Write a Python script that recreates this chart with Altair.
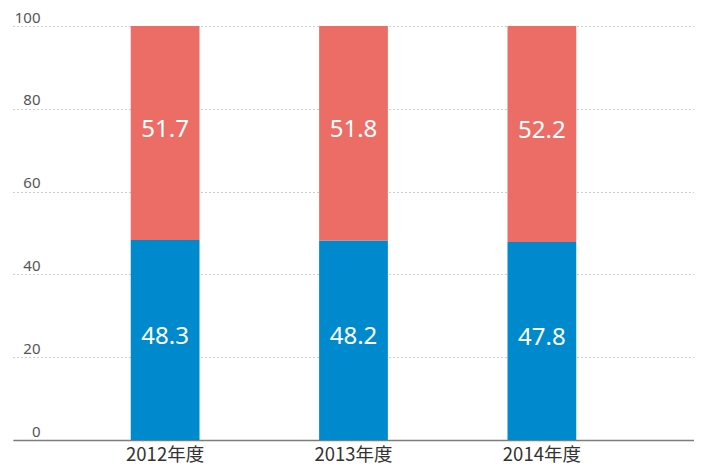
import altair as alt
import pandas as pd

years = ["2012年度", "2013年度", "2014年度"]
lower_vals = [48.3, 48.2, 47.8]
upper_vals = [51.7, 51.8, 52.2]
series = ["lower", "upper"]
colors = ["#008ACE", "#EC6D66"]
y_ticks = [0, 20, 40, 60, 80, 100]

rows = []
for i, y in enumerate(years):
    rows.append({"year": y, "series": "lower", "order": 0, "value": lower_vals[i]})
    rows.append({"year": y, "series": "upper", "order": 1, "value": upper_vals[i]})
df = pd.DataFrame(rows)

font = "Noto Sans CJK JP"
num_font = "Noto Sans"

base = alt.Chart(df).transform_stack(
    stack="value", groupby=["year"], as_=["y0", "y1"], sort=[alt.SortField("order")]
).transform_calculate(
    mid="(datum.y0 + datum.y1) / 2",
    label="format(datum.value, '.1f')",
)

xenc = alt.X(
    "year:N",
    sort=years,
    scale=alt.Scale(paddingInner=0.635, paddingOuter=0.625),
    axis=alt.Axis(
        title=None, labelAngle=0, ticks=False, domainColor="#7d7d7d", domainWidth=1.5,
        labelFont=font, labelFontSize=18.5, labelColor="#333333", labelPadding=5,
    ),
)

bars = base.mark_bar().encode(
    x=xenc,
    y=alt.Y(
        "y0:Q",
        scale=alt.Scale(domain=[0, 100], nice=False),
        axis=alt.Axis(
            title=None, values=y_ticks, domain=False, ticks=False,
            grid=True, gridDash=[1, 3], gridColor="#9a9a9a", gridWidth=1,
            labelFont=num_font, labelFontSize=15, labelColor="#555555",
            labelAlign="right", labelBaseline="bottom", labelOffset=-1,
            labelPadding=-27, labelFlush=False,
        ),
    ),
    y2="y1:Q",
    color=alt.Color("series:N", scale=alt.Scale(domain=series, range=colors), legend=None),
)

texts = base.mark_text(
    color="white", font=num_font, fontSize=24, baseline="middle", align="center", dy=-3
).encode(
    x=alt.X("year:N", sort=years),
    y=alt.Y("mid:Q"),
    text="label:N",
)

chart = (bars + texts).properties(
    width=681, height=414,
    autosize=alt.AutoSizeParams(type="none"),
    padding={"left": 5, "top": 18, "right": 0, "bottom": 26},
).configure_view(stroke=None)

chart.save("out.html", embed_options={"renderer": "svg", "actions": False})
